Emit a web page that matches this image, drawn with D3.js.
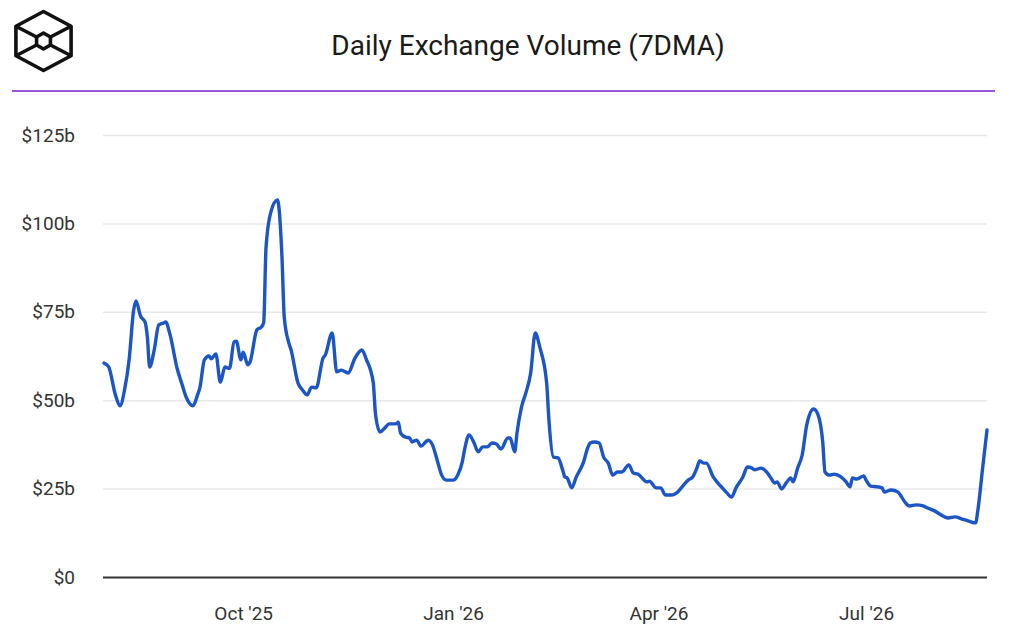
<!DOCTYPE html>
<html>
<head>
<meta charset="utf-8">
<script src="https://cdn.jsdelivr.net/npm/d3@7"></script>
<style>
  html, body { margin: 0; padding: 0; background: #fff; }
  svg { display: block; font-family: Roboto, "Noto Sans", sans-serif; }
</style>
</head>
<body>
<div id="chart"></div>
<script>
'use strict';

// chart text
const title = 'Daily Exchange Volume (7DMA)';

// 7 day moving average, billions of USD
const dates = [
  '2025-08-01','2025-08-03','2025-08-06','2025-08-08','2025-08-10','2025-08-12','2025-08-14','2025-08-15',
  '2025-08-17','2025-08-19','2025-08-20','2025-08-21','2025-08-23','2025-08-25','2025-08-27','2025-08-28',
  '2025-08-30','2025-09-02','2025-09-04','2025-09-06','2025-09-09','2025-09-11','2025-09-12','2025-09-14',
  '2025-09-16','2025-09-17','2025-09-19','2025-09-21','2025-09-23','2025-09-25','2025-09-27','2025-09-28',
  '2025-09-30','2025-10-01','2025-10-03','2025-10-04','2025-10-07','2025-10-09','2025-10-10','2025-10-11',
  '2025-10-13','2025-10-16','2025-10-18','2025-10-19','2025-10-21','2025-10-22','2025-10-25','2025-10-27',
  '2025-10-29','2025-10-31','2025-11-02','2025-11-05','2025-11-06','2025-11-09','2025-11-11','2025-11-13',
  '2025-11-16','2025-11-19','2025-11-22','2025-11-24','2025-11-27','2025-11-28','2025-11-30','2025-12-02',
  '2025-12-04','2025-12-07','2025-12-08','2025-12-09','2025-12-11','2025-12-13','2025-12-14','2025-12-16',
  '2025-12-18','2025-12-20','2025-12-21','2025-12-23','2025-12-25','2025-12-27','2025-12-29','2026-01-01',
  '2026-01-03','2026-01-05','2026-01-06','2026-01-08','2026-01-10','2026-01-12','2026-01-14','2026-01-16',
  '2026-01-18','2026-01-20','2026-01-22','2026-01-25','2026-01-26','2026-01-28','2026-01-29','2026-01-31',
  '2026-02-02','2026-02-04','2026-02-06','2026-02-08','2026-02-11','2026-02-12','2026-02-14','2026-02-16',
  '2026-02-18','2026-02-19','2026-02-20','2026-02-22','2026-02-24','2026-02-27','2026-03-01','2026-03-02',
  '2026-03-04','2026-03-06','2026-03-08','2026-03-10','2026-03-12','2026-03-14','2026-03-16','2026-03-19',
  '2026-03-21','2026-03-23','2026-03-27','2026-03-28','2026-03-31','2026-04-02','2026-04-04','2026-04-07',
  '2026-04-09','2026-04-11','2026-04-14','2026-04-16','2026-04-18','2026-04-19','2026-04-21','2026-04-22',
  '2026-04-25','2026-04-27','2026-04-29','2026-05-01','2026-05-03','2026-05-05','2026-05-08','2026-05-10',
  '2026-05-12','2026-05-13','2026-05-16','2026-05-18','2026-05-20','2026-05-22','2026-05-23','2026-05-25',
  '2026-05-27','2026-05-29','2026-05-30','2026-06-01','2026-06-03','2026-06-05','2026-06-08','2026-06-10',
  '2026-06-12','2026-06-13','2026-06-15','2026-06-17','2026-06-20','2026-06-22','2026-06-24','2026-06-25',
  '2026-06-27','2026-06-30','2026-07-01','2026-07-03','2026-07-06','2026-07-08','2026-07-09','2026-07-12',
  '2026-07-15','2026-07-16','2026-07-18','2026-07-20','2026-07-23','2026-07-26','2026-07-28','2026-07-31',
  '2026-08-03','2026-08-06','2026-08-09','2026-08-12','2026-08-15','2026-08-18','2026-08-19','2026-08-21',
  '2026-08-23'
];

const volumes = [
  60.5, 59.5, 51.5, 48.4, 52.9, 61.4, 75.5, 78.1,
  73.8, 72.1, 67.9, 59.4, 64.2, 71.3, 71.8, 72.1,
  68.4, 59.1, 54.9, 50.9, 48.4, 51.5, 53.5, 61.4,
  62.5, 61.7, 63.1, 55.1, 59.4, 59.0, 66.5, 66.7,
  61.4, 63.6, 60.0, 60.8, 69.9, 70.7, 72.0, 93.0,
  102.9, 106.6, 90.5, 73.5, 66.2, 64.2, 54.9, 52.9,
  51.5, 53.7, 53.5, 61.9, 62.8, 69.0, 58.0, 58.5,
  57.7, 61.9, 64.2, 61.5, 55.0, 46.0, 41.0, 42.1,
  43.3, 43.3, 43.8, 40.7, 39.6, 39.3, 38.2, 38.7,
  37.0, 38.2, 38.7, 37.3, 33.1, 28.8, 27.4, 27.4,
  28.8, 32.5, 35.9, 40.2, 38.2, 35.4, 36.8, 36.8,
  37.9, 37.6, 36.2, 39.3, 39.3, 35.4, 40.7, 48.1,
  52.3, 57.7, 69.0, 65.0, 54.9, 44.4, 33.9, 33.7,
  30.3, 28.3, 28.0, 25.2, 28.3, 32.2, 36.5, 37.9,
  38.2, 37.9, 33.9, 32.2, 28.8, 29.7, 29.7, 31.7,
  29.4, 29.1, 26.9, 27.1, 25.2, 25.2, 23.2, 23.2,
  23.8, 25.2, 27.4, 28.3, 31.1, 32.8, 32.2, 32.2,
  28.3, 26.6, 25.2, 23.8, 22.6, 25.2, 28.3, 31.1,
  30.8, 30.3, 30.8, 30.0, 28.3, 26.6, 26.9, 24.9,
  26.6, 28.0, 26.9, 30.8, 34.5, 43.0, 47.5, 45.8,
  38.2, 29.7, 28.8, 29.1, 28.3, 27.1, 25.5, 28.0,
  27.7, 28.6, 27.4, 25.7, 25.5, 25.2, 24.0, 24.6,
  24.0, 23.2, 21.2, 20.1, 20.4, 20.1, 19.5, 18.7,
  17.5, 16.7, 17.0, 16.4, 15.8, 15.3, 18.9, 30.3,
  41.6
];

// axis ticks
const y_ticks = [0, 25, 50, 75, 100, 125];
const x_tick_dates = ['2025-10-01', '2026-01-01', '2026-04-01', '2026-07-01'];
const x_tick_labels = ["Oct '25", "Jan '26", "Apr '26", "Jul '26"];

// layout
const W = 1024, H = 637;
const plot = { left: 104, right: 987, top: 135, bottom: 577 };
const text_color = '#333333';
const line_color = '#1b55c6';

const parse = d3.timeParse('%Y-%m-%d');
const data = dates.map((d, i) => ({ date: parse(d), value: volumes[i] }));

const svg = d3.select('#chart').append('svg')
  .attr('width', W)
  .attr('height', H);

// header: logo
const logo = svg.append('g')
  .attr('fill', 'none')
  .attr('stroke', '#111')
  .attr('stroke-width', 3.6)
  .attr('stroke-linejoin', 'round');

const cx = 43.5, cy = 41, R = 29.5, r = 8;
const hex = (rad, sx) => d3.range(6).map(k => {
  const a = Math.PI / 2 + k * Math.PI / 3;
  return [cx + sx * rad * Math.cos(a), cy - rad * Math.sin(a)];
});
const outer = hex(R, 1.08), inner = hex(r, 1.0);
logo.append('polygon').attr('points', outer.map(p => p.join(',')).join(' '));
logo.append('polygon').attr('points', inner.map(p => p.join(',')).join(' '));
// spokes from the four side corners to the inner hexagon
[1, 2, 4, 5].forEach(k => {
  logo.append('line')
    .attr('x1', outer[k][0]).attr('y1', outer[k][1])
    .attr('x2', inner[k][0]).attr('y2', inner[k][1]);
});

// title
svg.append('text')
  .attr('x', 528)
  .attr('y', 55)
  .attr('text-anchor', 'middle')
  .attr('fill', '#1a1a1a')
  .attr('font-size', '28px')
  .text(title);

// purple rule
svg.append('line')
  .attr('x1', 12).attr('x2', 995)
  .attr('y1', 91).attr('y2', 91)
  .attr('stroke', '#9b55dc')
  .attr('stroke-width', 2);

// scales
const x = d3.scaleTime()
  .domain(d3.extent(data, d => d.date))
  .range([plot.left, plot.right]);

const y = d3.scaleLinear()
  .domain([0, 125])
  .range([plot.bottom, plot.top]);

// gridlines + y labels
const y_axis = d3.axisLeft(y)
  .tickValues(y_ticks)
  .tickSize(-(plot.right - plot.left + 1))
  .tickPadding(28)
  .tickFormat(d => `$${d}${d === 0 ? '' : 'b'}`);

const yg = svg.append('g')
  .attr('transform', `translate(${plot.left - 1},0)`)
  .call(y_axis);
yg.select('.domain').remove();
yg.selectAll('.tick line')
  .attr('stroke', '#e8e8e8')
  .attr('stroke-width', 1.5);
yg.selectAll('.tick text')
  .attr('fill', text_color)
  .attr('font-size', '19px')
  .attr('font-family', 'Roboto, sans-serif');
yg.selectAll('.tick')
  .filter(d => d === 0)
  .select('line')
  .attr('stroke', '#333')
  .attr('stroke-width', 2);

// x labels
const x_axis = d3.axisBottom(x)
  .tickValues(x_tick_dates.map(parse))
  .tickSize(0)
  .tickPadding(30)
  .tickFormat((d, i) => x_tick_labels[i]);

const xg = svg.append('g')
  .attr('transform', `translate(0,${y(0)})`)
  .call(x_axis);
xg.select('.domain').remove();
xg.selectAll('.tick text')
  .attr('fill', text_color)
  .attr('font-size', '19px')
  .attr('font-family', 'Roboto, sans-serif');

// the series
const line = d3.line()
  .x(d => x(d.date))
  .y(d => y(d.value))
  .curve(d3.curveMonotoneX);

svg.append('path')
  .datum(data)
  .attr('fill', 'none')
  .attr('stroke', line_color)
  .attr('stroke-width', 3.4)
  .attr('stroke-linejoin', 'round')
  .attr('stroke-linecap', 'round')
  .attr('d', line);
</script>
</body>
</html>
